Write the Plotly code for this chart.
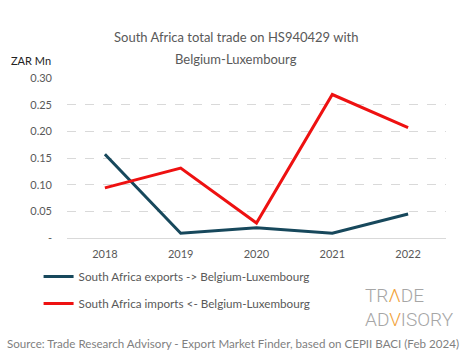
import plotly.graph_objects as go

years = ["2018", "2019", "2020", "2021", "2022"]
exports = [0.157, 0.009, 0.019, 0.009, 0.045]
imports = [0.094, 0.131, 0.028, 0.269, 0.207]
y_tickvals = [0, 0.05, 0.10, 0.15, 0.20, 0.25, 0.30]
y_ticktext = ["-", "0.05", "0.10", "0.15", "0.20", "0.25", "0.30"]
title_lines = ["South Africa total trade on HS940429 with", "Belgium-Luxembourg"]

FONT = "Lato"
GRAY = "#595959"

fig = go.Figure()
fig.add_trace(go.Scatter(x=years, y=exports, mode="lines",
                         name="South Africa exports -> Belgium-Luxembourg",
                         line=dict(color="#17485c", width=3), legendgroup="a"))
fig.add_trace(go.Scatter(x=years, y=imports, mode="lines",
                         name="South Africa imports <- Belgium-Luxembourg",
                         line=dict(color="#ee1111", width=3), legendgroup="b"))

fig.update_layout(
    width=465, height=359,
    margin=dict(l=67, r=19, t=78, b=121),
    plot_bgcolor="white", paper_bgcolor="white",
    font=dict(family=FONT, color=GRAY, size=11),
    showlegend=True,
    legend=dict(x=-0.075, xanchor="left", y=-0.15, yanchor="top",
                orientation="v", tracegroupgap=8,
                font=dict(size=11.7, color=GRAY, family=FONT),
                bgcolor="rgba(0,0,0,0)"),
    xaxis=dict(type="category", range=[-0.5, 4.5], showgrid=False, showline=True,
               linecolor="#d9d9d9", linewidth=1, ticks="",
               tickfont=dict(size=11, color=GRAY), ticklabelstandoff=6),
    yaxis=dict(range=[0, 0.30], tickvals=y_tickvals, ticktext=y_ticktext,
               showgrid=True, gridcolor="#d9d9d9", griddash="dash", gridwidth=1,
               zeroline=False, showline=False, ticks="",
               tickfont=dict(size=11, color=GRAY), ticklabelstandoff=14),
)

for txt, yy in zip(title_lines, [1.256, 1.119]):
    fig.add_annotation(text=txt, xref="paper", yref="paper", x=0.447, y=yy,
                       xanchor="center", yanchor="middle", showarrow=False,
                       font=dict(size=13, color=GRAY, family=FONT))

fig.add_annotation(text="ZAR Mn", xref="paper", yref="paper", x=-0.152, y=1.11,
                   xanchor="left", yanchor="middle", showarrow=False,
                   font=dict(size=11, color="#222222", family=FONT))
fig.add_annotation(text="Source: Trade Research Advisory - Export Market Finder, based on CEPII BACI (Feb 2024)",
                   xref="paper", yref="paper", x=0.439, y=-0.66, xanchor="center", yanchor="middle",
                   showarrow=False, font=dict(size=11.6, color="#7f7f7f", family=FONT))
fig.add_annotation(text="TR<span style='color:#f2a33a'>Λ</span>DE",
                   xref="paper", yref="paper", x=0.78, y=-0.358, xanchor="left", yanchor="middle",
                   showarrow=False, font=dict(size=19, color="#a6a6a6", family="Roboto", weight=300))
fig.add_annotation(text="AD<span style='color:#f2a33a'>V</span>ISORY",
                   xref="paper", yref="paper", x=0.78, y=-0.51, xanchor="left", yanchor="middle",
                   showarrow=False, font=dict(size=19, color="#a6a6a6", family="Roboto", weight=300))

fig.write_html("out.html", post_script="document.body.style.margin='0';",
               config={"displayModeBar": False})
